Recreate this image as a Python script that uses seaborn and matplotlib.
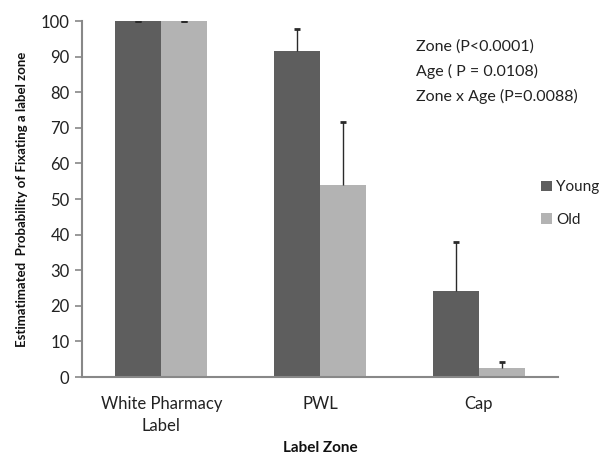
import matplotlib
matplotlib.use("Agg")
import matplotlib.pyplot as plt
import seaborn as sns
import pandas as pd
import numpy as np
from matplotlib.patches import Patch

zones = ["White Pharmacy\nLabel", "PWL", "Cap"]
groups = ["Young", "Old"]
young_vals = [100.0, 91.6, 24.2]
old_vals = [100.0, 54.0, 2.4]
young_err = [0.0, 6.2, 13.8]
old_err = [0.0, 17.6, 1.7]
y_ticks = [0, 10, 20, 30, 40, 50, 60, 70, 80, 90, 100]
stats_lines = ["Zone (P<0.0001)", "Age ( P = 0.0108)", "Zone x Age (P=0.0088)"]

df = pd.DataFrame({
    "zone": zones * 2,
    "group": [groups[0]] * 3 + [groups[1]] * 3,
    "value": young_vals + old_vals,
    "err": young_err + old_err,
})

sns.set_style("white")
plt.rcParams["font.family"] = ["Lato", "DejaVu Sans"]

fig = plt.figure(figsize=(6.08, 4.57), dpi=100)
ax = fig.add_axes([0.135, 0.175, 0.783, 0.779])
palette = {"Young": "#5e5e5e", "Old": "#b3b3b3"}
sns.barplot(data=df, x="zone", y="value", hue="group", order=zones, hue_order=groups,
            palette=palette, width=0.58, errorbar=None, saturation=1, ax=ax,
            edgecolor="none", linewidth=0, legend=False)

# error bars (upper only) from bar patches
for i, g in enumerate(groups):
    sub = df[df.group == g]
    for j, z in enumerate(zones):
        p = ax.patches[i * len(zones) + j]
        xc = p.get_x() + p.get_width() / 2
        h = p.get_height()
        e = sub[sub.zone == z]["err"].values[0]
        _, caps, _ = ax.errorbar([xc], [h], yerr=[[0], [e]], fmt="none", ecolor="#2a2a2a",
                                 elinewidth=1, capsize=2.5, capthick=2, zorder=5)
        if e > 0 and len(caps) == 2:
            caps[0].remove()

ax.set_ylim(0, 100)
ax.set_xlim(-0.5, 2.5)
ax.set_yticks(y_ticks)
ax.set_yticklabels([str(t) for t in y_ticks], fontsize=12, color="#222222")
ax.set_xticks(range(len(zones)))
ax.set_xticklabels(zones, fontsize=12, color="#222222", linespacing=1.45)
ax.set_xticks([-0.5, 0.5, 1.5, 2.5], minor=True)
ax.tick_params(axis="x", which="major", length=0, pad=14)
ax.tick_params(axis="x", which="minor", length=5, color="#888888", width=1.2, direction="out")
ax.tick_params(axis="y", which="major", length=5, color="#888888", width=1.2, direction="out", pad=4, left=True)
for s in ["top", "right"]:
    ax.spines[s].set_visible(False)
for s in ["left", "bottom"]:
    ax.spines[s].set_color("#888888")
    ax.spines[s].set_linewidth(1.5)

ax.set_xlabel("Label Zone", fontsize=11, fontweight="bold", labelpad=5, color="#111111")
ax.set_ylabel("Estimatimated  Probability of Fixating a label zone", fontsize=9.5,
              fontweight="bold", labelpad=9, color="#111111")

for k, line in enumerate(stats_lines):
    fig.text(0.685, 0.898 - k * 0.055, line, fontsize=11.5, color="#222222", va="center")

handles = [Patch(facecolor=palette[g], edgecolor="none") for g in groups]
leg = fig.legend(handles, groups, loc="center left", bbox_to_anchor=(0.885, 0.555),
                 frameon=False, fontsize=11, handlelength=0.7, handleheight=0.7,
                 handletextpad=0.3, labelspacing=1.2, borderpad=0.2, borderaxespad=0)
for t in leg.get_texts():
    t.set_color("#222222")

fig.savefig("out.png", dpi=100)
